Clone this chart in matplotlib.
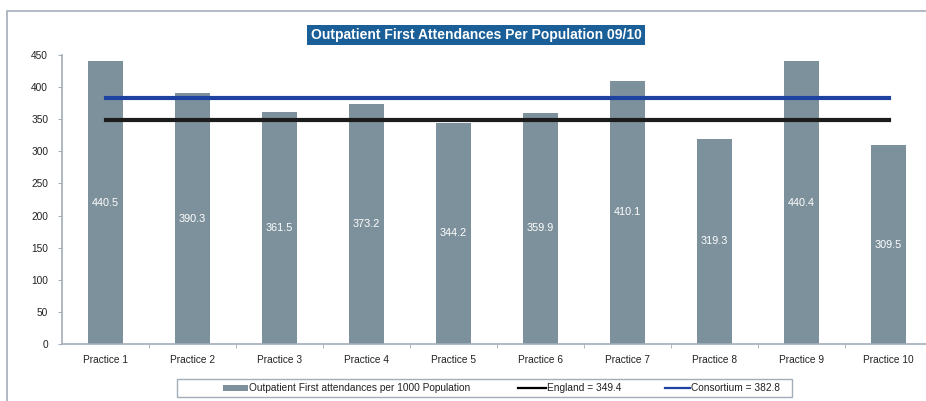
import matplotlib
matplotlib.use("Agg")
import matplotlib.pyplot as plt
from matplotlib.patches import Rectangle
from matplotlib.lines import Line2D

plt.rcParams['font.family'] = ['Liberation Sans', 'DejaVu Sans']

# data
practices = ['Practice 1', 'Practice 2', 'Practice 3', 'Practice 4', 'Practice 5',
             'Practice 6', 'Practice 7', 'Practice 8', 'Practice 9', 'Practice 10']
attendances = [440.5, 390.3, 361.5, 373.2, 344.2, 359.9, 410.1, 319.3, 440.4, 309.5]
england = 349.4
consortium = 382.8
yticks = [0, 50, 100, 150, 200, 250, 300, 350, 400, 450]
legend_labels = ['Outpatient First attendances per 1000 Population',
                 'England = %.1f' % england, 'Consortium = %.1f' % consortium]

bar_col = '#7D919C'
spine_col = '#A3AEB8'
text_col = '#222222'
eng_col = '#1C1C1C'
con_col = '#1E42A0'

W, H = 926, 401
fig = plt.figure(figsize=(W / 100, H / 100), dpi=100)

def fx(px):
    return px / W

def fy(py):
    return 1 - py / H

# outer chart frame (runs off the right and bottom of the picture)
fig.patches.append(Rectangle((fx(7), -0.1), 1.2, fy(11) + 0.1,
                             transform=fig.transFigure, fill=False,
                             edgecolor=spine_col, linewidth=1.2))

ax = fig.add_axes([fx(62), fy(344), 870 / W, 289 / H])
x = list(range(len(practices)))
ax.bar(x, attendances, width=0.4, color=bar_col, zorder=2)
ax.plot([x[0], x[-1]], [england, england], color=eng_col, linewidth=3, zorder=3)
ax.plot([x[0], x[-1]], [consortium, consortium], color=con_col, linewidth=3, zorder=3)

for xi, v in zip(x, attendances):
    ax.text(xi, v / 2, f'{v:.1f}', color='white', ha='center', va='center', fontsize=7.8)

ax.set_xlim(-0.5, len(practices) - 0.5)
ax.set_ylim(0, 450)
ax.set_yticks(yticks)
ax.set_xticks(x)
ax.set_xticklabels(practices)
ax.set_xticks([i + 0.5 for i in x[:-1]], minor=True)
ax.tick_params(axis='x', which='major', length=0, pad=8, labelsize=7.3, labelcolor=text_col)
ax.tick_params(axis='x', which='minor', length=3, color=spine_col, direction='out')
ax.tick_params(axis='y', length=3, color=spine_col, labelsize=7.3, labelcolor=text_col, pad=7)
for s in ['top', 'right']:
    ax.spines[s].set_visible(False)
for s in ['left', 'bottom']:
    ax.spines[s].set_color(spine_col)
    ax.spines[s].set_linewidth(1.2)

fig.text(fx(476), fy(35), 'Outpatient First Attendances Per Population 09/10',
         ha='center', va='center', color='white', fontsize=10, fontweight='bold',
         bbox=dict(boxstyle='square,pad=0.25', facecolor='#1A5F97', edgecolor='none'))

# legend box laid out by hand, like the original
fig.patches.append(Rectangle((fx(177), fy(397)), fx(792) - fx(177), fy(379) - fy(397),
                             transform=fig.transFigure, fill=False,
                             edgecolor=spine_col, linewidth=1))
ly = fy(388)
fig.patches.append(Rectangle((fx(223), fy(390.5)), fx(248) - fx(223), fy(385) - fy(390.5),
                             transform=fig.transFigure, facecolor=bar_col, edgecolor='none'))
fig.lines.append(Line2D([fx(518), fx(546)], [ly, ly], transform=fig.transFigure,
                        color='black', linewidth=1.6))
fig.lines.append(Line2D([fx(665), fx(690)], [ly, ly], transform=fig.transFigure,
                        color=con_col, linewidth=1.6))
for px, lab in zip([249, 547, 691], legend_labels):
    fig.text(fx(px), ly, lab, ha='left', va='center', fontsize=7.3, color=text_col)

fig.savefig('out.png', dpi=100)
